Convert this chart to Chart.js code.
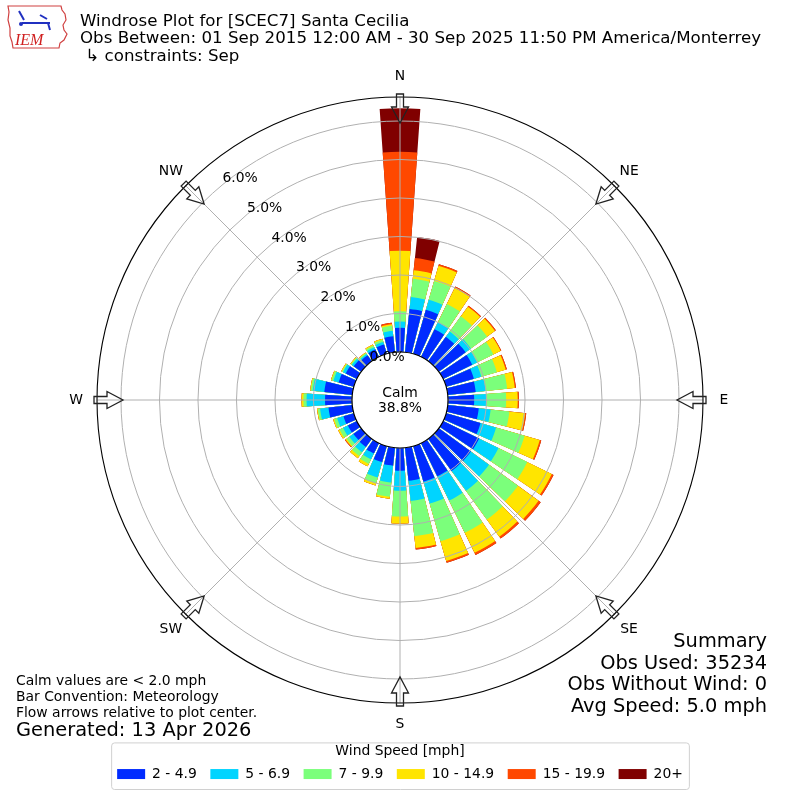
<!DOCTYPE html>
<html>
<head>
<meta charset="utf-8">
<script src="https://cdn.jsdelivr.net/npm/chart.js@4.4.1/dist/chart.umd.min.js"></script>
<style>
html,body{margin:0;padding:0;background:#fff;}
#wrap{width:800px;height:800px;position:relative;}
</style>
</head>
<body>
<div id="wrap"><canvas id="c" width="800" height="800"></canvas></div>
<script>
// ---- categories ----
const directions = [0,10,20,30,40,50,60,70,80,90,100,110,120,130,140,150,160,170,
                    180,190,200,210,220,230,240,250,260,270,280,290,300,310,320,330,340,350];
const speedBins = ['2 - 4.9','5 - 6.9','7 - 9.9','10 - 14.9','15 - 19.9','20+'];
const binColors = ['#002bff','#00d4ff','#7bff7b','#ffe500','#ff4800','#800000'];

// ---- series values (% of observations, per speed bin, per direction) ----
const speed2to5   = [0.63,1.13,1.19,0.80,0.78,0.86,0.84,0.75,0.73,0.68,0.81,0.93,1.04,1.03,1.03,0.96,0.96,0.86,
                     0.59,0.47,0.43,0.30,0.26,0.25,0.26,0.28,0.62,0.70,0.73,0.41,0.32,0.24,0.19,0.22,0.25,0.42];
const speed5to7   = [0.16,0.31,0.27,0.20,0.17,0.17,0.14,0.20,0.26,0.31,0.31,0.42,0.56,0.58,0.64,0.70,0.59,0.53,
                     0.52,0.44,0.42,0.17,0.17,0.13,0.14,0.17,0.22,0.48,0.30,0.14,0.08,0.06,0.04,0.06,0.07,0.14];
const speed7to10  = [0.27,0.48,0.51,0.53,0.49,0.52,0.47,0.42,0.56,0.52,0.49,0.77,0.83,0.93,0.92,0.93,1.02,0.92,
                     0.67,0.37,0.15,0.13,0.12,0.09,0.10,0.08,0.06,0.08,0.05,0.05,0.03,0.03,0.03,0.05,0.06,0.13];
const speed10to15 = [1.57,0.22,0.41,0.46,0.31,0.25,0.21,0.24,0.20,0.30,0.41,0.41,0.71,0.66,0.55,0.58,0.53,0.31,
                     0.18,0.05,0.06,0.07,0.07,0.03,0.04,0.03,0.02,0.05,0.02,0.02,0.02,0.02,0.02,0.03,0.03,0.04];
const speed15to20 = [2.57,0.32,0.04,0.04,0.03,0.03,0.02,0.03,0.03,0.03,0.03,0.04,0.05,0.07,0.06,0.06,0.05,0.04,
                     0.00,0.00,0.00,0.00,0.00,0.02,0.00,0.00,0.00,0.00,0.00,0.00,0.00,0.00,0.00,0.00,0.00,0.04];
const speed20plus = [1.13,0.55,0.00,0.00,0.00,0.00,0.00,0.00,0.00,0.00,0.00,0.00,0.00,0.00,0.00,0.00,0.00,0.00,
                     0.00,0.00,0.00,0.00,0.00,0.00,0.00,0.00,0.00,0.00,0.00,0.00,0.00,0.00,0.00,0.00,0.00,0.00];
const calmPercent = 38.8;

// ---- tick labels / texts ----
const radialTicks = [0,1,2,3,4,5,6];
const compassNames = ['N','NE','E','SE','S','SW','W','NW'];
const compassAngles = [0,45,90,135,180,225,270,315];
const titleLines = ['Windrose Plot for [SCEC7] Santa Cecilia',
                    'Obs Between: 01 Sep 2015 12:00 AM - 30 Sep 2025 11:50 PM America/Monterrey',
                    ' \u21b3 constraints: Sep'];
const noteLines = ['Calm values are < 2.0 mph','Bar Convention: Meteorology','Flow arrows relative to plot center.'];
const generatedText = 'Generated: 13 Apr 2026';
const summaryLines = ['Summary','Obs Used: 35234','Obs Without Wind: 0','Avg Speed: 5.0 mph'];
const legendTitle = 'Wind Speed [mph]';

// ---- scale limits ----
const rMin = -1.247, rMax = 6.623;
const barWidthDeg = 8, gapWidthDeg = 2;

const FONT = 'DejaVu Sans';
Chart.defaults.font.family = FONT;

// build stacked (cumulative) series, interleaved with gap slots
const series = [speed2to5, speed5to7, speed7to10, speed10to15, speed15to20, speed20plus];
const cumulative = series.map((s, bi) => directions.map((d, di) => {
  let t = 0; for (let k = 0; k <= bi; k++) t += series[k][di]; return +t.toFixed(3);
}));
const labels = [];
directions.forEach(d => { labels.push(d + '\u00b0'); labels.push(''); });
const datasets = speedBins.map((name, bi) => {
  const data = [];
  cumulative[bi].forEach(v => { data.push(v); data.push(0); });
  return {
    label: name,
    data,
    backgroundColor: (ctx) => (ctx.dataIndex % 2 === 0 ? binColors[bi] : 'rgba(0,0,0,0)'),
    borderWidth: 0,
    angle: (ctx) => (ctx.dataIndex % 2 === 0 ? barWidthDeg : gapWidthDeg)
  };
});

function pt(scale, compassDeg, r) {
  const a = compassDeg * Math.PI / 180;
  return {x: scale.xCenter + r * Math.sin(a), y: scale.yCenter - r * Math.cos(a)};
}

const spokesPlugin = {
  id: 'spokes',
  afterDatasetsDraw(chart) {
    const s = chart.scales.r, ctx = chart.ctx;
    const r0 = s.getDistanceFromCenterForValue(0), r1 = s.drawingArea;
    ctx.save();
    ctx.strokeStyle = '#b0b0b0'; ctx.lineWidth = 1;
    compassAngles.forEach(a => {
      const p0 = pt(s, a, r0), p1 = pt(s, a, r1);
      ctx.beginPath(); ctx.moveTo(p0.x, p0.y); ctx.lineTo(p1.x, p1.y); ctx.stroke();
    });
    ctx.restore();
  }
};

const decorPlugin = {
  id: 'decor',
  afterDraw(chart) {
    const s = chart.scales.r, ctx = chart.ctx;
    const cx = s.xCenter, cy = s.yCenter, R = s.drawingArea;
    const r0 = s.getDistanceFromCenterForValue(0);
    ctx.save();
    // calm circle
    ctx.beginPath(); ctx.arc(cx, cy, r0, 0, Math.PI * 2);
    ctx.fillStyle = '#fff'; ctx.fill();
    ctx.strokeStyle = '#000'; ctx.lineWidth = 1.2; ctx.stroke();
    ctx.fillStyle = '#000';
    ctx.font = '13.9px "' + FONT + '"';
    ctx.textAlign = 'center'; ctx.textBaseline = 'middle';
    ctx.fillText('Calm', cx, cy - 7);
    ctx.fillText(calmPercent.toFixed(1) + '%', cx, cy + 8);
    // radial tick labels
    ctx.textAlign = 'left'; ctx.textBaseline = 'bottom';
    radialTicks.forEach(v => {
      const p = pt(s, -39.5, s.getDistanceFromCenterForValue(v));
      ctx.fillText(v.toFixed(1) + '%', p.x, p.y + 1);
    });
    // compass labels
    ctx.textAlign = 'center'; ctx.textBaseline = 'middle';
    compassNames.forEach((n, i) => {
      const p = pt(s, compassAngles[i], R + 21);
      ctx.fillText(n, p.x, p.y);
    });
    // hollow flow arrows
    ctx.strokeStyle = '#222'; ctx.lineWidth = 1.3; ctx.lineJoin = 'miter';
    compassAngles.forEach(a => {
      const ar = a * Math.PI / 180;
      const ux = Math.sin(ar), uy = -Math.cos(ar), vx = Math.cos(ar), vy = Math.sin(ar);
      const P = (r, w) => [cx + r * ux + w * vx, cy + r * uy + w * vy];
      const pts = [P(R + 3, -3.5), P(R - 10, -3.5), P(R - 10, -8.5), P(R - 26, 0),
                   P(R - 10, 8.5), P(R - 10, 3.5), P(R + 3, 3.5)];
      ctx.beginPath(); ctx.moveTo(pts[0][0], pts[0][1]);
      for (let i = 1; i < pts.length; i++) ctx.lineTo(pts[i][0], pts[i][1]);
      ctx.closePath(); ctx.stroke();
    });
    // header
    ctx.fillStyle = '#000'; ctx.textAlign = 'left'; ctx.textBaseline = 'alphabetic';
    ctx.font = '16.67px "' + FONT + '"';
    titleLines.forEach((t, i) => ctx.fillText(t, 80, 26 + i * 17.3));
    // notes
    ctx.font = '13.9px "' + FONT + '"';
    noteLines.forEach((t, i) => ctx.fillText(t, 16, 685 + i * 16));
    ctx.font = '19.4px "' + FONT + '"';
    ctx.fillText(generatedText, 16, 736);
    // summary
    ctx.textAlign = 'right';
    summaryLines.forEach((t, i) => ctx.fillText(t, 767, 647 + i * 21.6));
    // legend frame
    const lg = chart.legend;
    if (lg && lg.legendHitBoxes && lg.legendHitBoxes.length) {
      const hb = lg.legendHitBoxes;
      const l = hb[0].left - 6, rgt = hb[hb.length - 1].left + hb[hb.length - 1].width + 6;
      const t = lg.top + 1.5, b = lg.bottom - 2;
      ctx.strokeStyle = '#d0d0d0'; ctx.lineWidth = 1;
      ctx.beginPath();
      if (ctx.roundRect) ctx.roundRect(l + 0.5, t + 0.5, rgt - l, b - t, 3); else ctx.rect(l + 0.5, t + 0.5, rgt - l, b - t);
      ctx.stroke();
    }
    // IEM logo (simplified)
    ctx.strokeStyle = '#d04040'; ctx.lineWidth = 1.2;
    ctx.beginPath();
    const logo = [[8,6],[61,6],[62,10],[65,14],[66,20],[63,25],[64,30],[67,34],[64,40],[60,43],[59,48],[13,48],[12,42],[10,36],[10,28],[8,20],[9,12]];
    ctx.moveTo(logo[0][0], logo[0][1]);
    logo.forEach(p => ctx.lineTo(p[0], p[1]));
    ctx.closePath(); ctx.stroke();
    ctx.strokeStyle = '#2030c0'; ctx.fillStyle = '#2030c0'; ctx.lineWidth = 2;
    ctx.beginPath(); ctx.moveTo(22, 23); ctx.lineTo(50, 23); ctx.stroke();
    ctx.beginPath(); ctx.moveTo(19, 11); ctx.lineTo(24, 20); ctx.stroke();
    ctx.beginPath(); ctx.moveTo(40, 15); ctx.lineTo(47, 19); ctx.stroke();
    ctx.beginPath(); ctx.moveTo(48, 23); ctx.lineTo(50, 30); ctx.stroke();
    ctx.beginPath(); ctx.arc(21, 24, 2, 0, Math.PI * 2); ctx.fill();
    ctx.fillStyle = '#d02020';
    ctx.font = 'italic 16px "Liberation Serif"';
    ctx.textAlign = 'left';
    ctx.fillText('IEM', 15, 45);
    ctx.restore();
  }
};

new Chart(document.getElementById('c'), {
  type: 'polarArea',
  data: { labels, datasets },
  options: {
    responsive: false,
    animation: false,
    events: [],
    layout: { padding: { left: 97, right: 97, top: 60, bottom: 9 } },
    scales: {
      r: {
        type: 'radialLinear',
        min: rMin,
        max: rMax,
        startAngle: -barWidthDeg / 2,
        afterBuildTicks: (scale) => {
          scale.ticks = radialTicks.concat([rMax]).map(v => ({ value: v }));
        },
        ticks: { display: false },
        grid: {
          display: true,
          circular: true,
          z: 1,
          lineWidth: (ctx) => (ctx.tick && ctx.tick.value === rMax ? 1.1 : 1),
          color: (ctx) => (ctx.tick && ctx.tick.value === rMax ? '#000000' : '#b0b0b0')
        },
        angleLines: { display: false },
        pointLabels: { display: false }
      }
    },
    plugins: {
      tooltip: { enabled: false },
      legend: {
        display: true,
        position: 'bottom',
        onClick: null,
        title: {
          display: true,
          text: legendTitle,
          color: '#000',
          font: { family: FONT, size: 13.9 },
          padding: { top: 4, bottom: -8 }
        },
        labels: {
          boxWidth: 28,
          boxHeight: 10,
          padding: 13.5,
          color: '#000',
          font: { family: FONT, size: 13.9 },
          generateLabels: (chart) => chart.data.datasets.map((ds, i) => ({
            text: ds.label,
            fillStyle: binColors[i],
            strokeStyle: binColors[i],
            lineWidth: 0,
            hidden: false,
            datasetIndex: i,
            fontColor: '#000'
          }))
        }
      }
    }
  },
  plugins: [spokesPlugin, decorPlugin]
});
</script>
</body>
</html>
